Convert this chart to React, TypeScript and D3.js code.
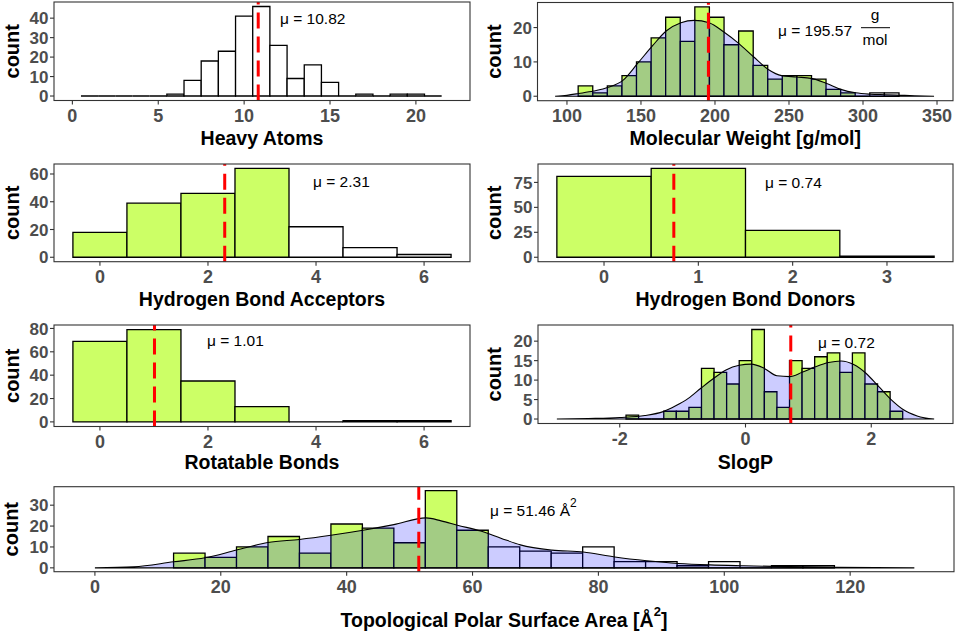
import React from "react";
import * as d3 from "d3";

const W = 957;
const H = 634;
const FONT = "'Liberation Sans', Arial, Helvetica, sans-serif";
const LIME = "#ccff66";
const TICK_GREY = "#4d4d4d";

// Heavy Atoms (binwidth 1)
const heavyAtomBins = [1, 2, 3, 4, 5, 6, 7, 8, 9, 10, 11, 12, 13, 14, 15, 16, 17, 18, 19, 20, 21];
const heavyAtomCounts = [0, 0, 0, 0, 0, 1, 8, 18, 23, 41, 46, 26, 9, 16, 7, 0, 1, 0, 1, 1, 0];
const heavyAtomMean = 10.82;

// Molecular Weight
const mwBins = [112.5, 122.4, 132.2, 142.1, 151.9, 161.8, 171.6, 181.5, 191.3, 201.2, 211.0, 220.9, 230.7, 240.6, 250.4, 260.3, 270.1, 280.0, 289.8, 299.7, 309.5, 319.4];
const mwCounts = [3, 1, 3, 6, 10, 17, 23, 16, 26, 23, 15, 19, 9, 5, 6, 6, 5, 2, 1, 0, 1, 1];
const mwDensityX = [92, 100, 108, 118, 128, 138, 148, 158, 167, 177, 186, 196, 206, 216, 226, 236, 245, 255, 265, 275, 285, 295, 305, 315, 325, 335, 348];
const mwDensityY = [0, 0.3, 0.8, 1.5, 2.6, 4.7, 9.7, 14.8, 19, 21.4, 22.1, 21.4, 18.7, 15.4, 11.5, 7.8, 6.0, 5.6, 5.2, 3.8, 2.0, 1.0, 0.6, 0.45, 0.3, 0.15, 0];
const mwMean = 195.57;

// Hydrogen Bond Acceptors
const hbaBins = [0, 1, 2, 3, 4, 5, 6];
const hbaCounts = [18, 39, 46, 64, 22, 7, 2];
const hbaMean = 2.31;

// Hydrogen Bond Donors
const hbdBins = [0, 1, 2, 3];
const hbdCounts = [81, 89, 27, 1];
const hbdMean = 0.74;

// Rotatable Bonds
const rotBins = [0, 1, 2, 3, 4, 5, 6];
const rotCounts = [69, 79, 35, 13, 0, 1, 1];
const rotMean = 1.01;

// SlogP (binwidth 0.2)
const slogpBins = [-1.8, -1.6, -1.4, -1.2, -1.0, -0.8, -0.6, -0.4, -0.2, 0, 0.2, 0.4, 0.6, 0.8, 1.0, 1.2, 1.4, 1.6, 1.8, 2.0, 2.2, 2.4];
const slogpCounts = [1, 0, 0, 2, 2, 3, 13, 12, 9, 15, 23, 7, 3, 15, 13, 16, 17, 12, 17, 9, 7, 2];
const slogpDensityX = [-3, -2.5, -2, -1.6, -1.31, -1.11, -0.91, -0.71, -0.51, -0.31, -0.1, 0.09, 0.3, 0.5, 0.7, 0.9, 1.11, 1.32, 1.52, 1.72, 1.92, 2.12, 2.32, 2.5, 2.73, 3];
const slogpDensityY = [0, 0.15, 0.4, 0.9, 1.9, 3.4, 5.3, 7.9, 10.4, 12.6, 13.8, 14.1, 13, 11.1, 10.9, 12, 13.4, 14.5, 14.9, 14, 11.7, 8.3, 4.9, 2.5, 0.8, 0];
const slogpMean = 0.72;

// Topological Polar Surface Area (binwidth 5)
const tpsaBins = [15, 20, 25, 30, 35, 40, 45, 50, 55, 60, 65, 70, 75, 80, 85, 90, 95, 100, 105, 110, 115];
const tpsaCounts = [7, 5, 10, 15, 7, 21, 19, 12, 37, 18, 10, 8, 7, 10, 3, 3, 1, 3, 0, 1, 1];
const tpsaDensityX = [0, 6.2, 12.5, 17.5, 22.5, 27.5, 32.5, 37.5, 42.6, 47.5, 52.6, 55, 57.6, 61.3, 64.5, 67.6, 72.6, 77.6, 82.6, 87.7, 92.7, 97.7, 102.7, 107.7, 112.7, 117.7, 124, 130.2];
const tpsaDensityY = [0, 0.5, 2.9, 4.8, 8.5, 12.1, 13.6, 15.6, 18, 20.7, 23.9, 22.5, 20.4, 17.6, 14.2, 11, 8.5, 7.6, 5.2, 3.4, 2.1, 1.4, 1.0, 0.7, 0.5, 0.3, 0.1, 0];
const tpsaMean = 51.46;

interface PanelProps {
  left: number;
  top: number;
  right: number;
  bottom: number;
  xDomain: [number, number];
  bins: number[];
  counts: number[];
  binWidth: number;
  limeUpTo: number;
  densityX?: number[];
  densityY?: number[];
  mean: number;
  xTicks: number[];
  yTicks: number[];
  countX: number;
  title: React.ReactNode;
  titleGap?: number;
  children?: React.ReactNode;
}

function Panel(p: PanelProps) {
  const yMax = d3.max(p.counts) ?? 1;
  const x = d3.scaleLinear().domain(p.xDomain).range([p.left, p.right]);
  const y = d3
    .scaleLinear()
    .domain([-0.05 * yMax, 1.05 * yMax])
    .range([p.bottom, p.top]);
  const y0 = y(0);

  // bars as paths so zero-count bins still show as a line
  const bars = p.bins.map((c, i) => {
    const x0 = x(c - p.binWidth / 2);
    const x1 = x(c + p.binWidth / 2);
    const yt = y(p.counts[i]);
    return {
      d: `M${x0},${y0}V${yt}H${x1}V${y0}Z`,
      fill: c <= p.limeUpTo ? LIME : "#ffffff",
    };
  });

  let densityPath: string | null = null;
  if (p.densityX && p.densityY) {
    const pts = p.densityX.map((v, i) => [v, p.densityY![i]] as [number, number]);
    densityPath = d3
      .area<[number, number]>()
      .x((d) => x(d[0]))
      .y0(y0)
      .y1((d) => y(d[1]))
      .curve(d3.curveMonotoneX)(pts);
  }

  const mx = x(p.mean);
  const cx = (p.left + p.right) / 2;
  const cy = (p.top + p.bottom) / 2;

  return (
    <g>
      {bars.map((b, i) => (
        <path key={i} d={b.d} fill={b.fill} stroke="#000" strokeWidth={1.3} />
      ))}
      {densityPath && (
        <path d={densityPath} fill="#0000ff" fillOpacity={0.2} stroke="#000" strokeWidth={1.1} />
      )}
      <line
        x1={mx}
        x2={mx}
        y1={p.bottom}
        y2={p.top}
        stroke="#ff0000"
        strokeWidth={3}
        strokeDasharray="16 8"
      />
      {p.children}
      <rect
        x={p.left}
        y={p.top}
        width={p.right - p.left}
        height={p.bottom - p.top}
        fill="none"
        stroke="#333333"
        strokeWidth={1.1}
      />
      {p.yTicks.map((t) => (
        <g key={"y" + t}>
          <line x1={p.left - 4} x2={p.left} y1={y(t)} y2={y(t)} stroke="#333333" strokeWidth={1.1} />
          <text
            x={p.left - 5.5}
            y={y(t)}
            dy="0.36em"
            textAnchor="end"
            fontSize={17}
            fontWeight="bold"
            fill={TICK_GREY}
          >
            {t}
          </text>
        </g>
      ))}
      {p.xTicks.map((t) => (
        <g key={"x" + t}>
          <line x1={x(t)} x2={x(t)} y1={p.bottom} y2={p.bottom + 4} stroke="#333333" strokeWidth={1.1} />
          <text
            x={x(t)}
            y={p.bottom + 21.5}
            textAnchor="middle"
            fontSize={18}
            fontWeight="bold"
            fill={TICK_GREY}
          >
            {t}
          </text>
        </g>
      ))}
      <text
        transform={`translate(${p.countX},${cy}) rotate(-90)`}
        dy="0.35em"
        textAnchor="middle"
        fontSize={20}
        fontWeight="bold"
        fill="#000"
      >
        count
      </text>
      <text
        x={cx}
        y={p.bottom + (p.titleGap ?? 44.5)}
        textAnchor="middle"
        fontSize={19.5}
        fontWeight="bold"
        fill="#000"
      >
        {p.title}
      </text>
    </g>
  );
}

function MuLabel({ x, y, text }: { x: number; y: number; text: string }) {
  return (
    <text x={x} y={y} fontSize={15.5} fill="#000">
      {"\u03bc = " + text}
    </text>
  );
}

export default function App() {
  return (
    <div style={{ position: "absolute", left: 0, top: 0 }}>
      <svg width={W} height={H} style={{ display: "block", background: "#fff", fontFamily: FONT }}>
        <Panel
          left={54}
          top={2}
          right={470}
          bottom={100.5}
          xDomain={[-1.07, 23.15]}
          bins={heavyAtomBins}
          counts={heavyAtomCounts}
          binWidth={1}
          limeUpTo={-Infinity}
          mean={heavyAtomMean}
          xTicks={[0, 5, 10, 15, 20]}
          yTicks={[0, 10, 20, 30, 40]}
          countX={12}
          title="Heavy Atoms"
        >
          <MuLabel x={280} y={24} text={heavyAtomMean.toFixed(2)} />
        </Panel>

        <Panel
          left={537.5}
          top={2.5}
          right={953}
          bottom={100.7}
          xDomain={[80.1, 360.8]}
          bins={mwBins}
          counts={mwCounts}
          binWidth={9.85}
          limeUpTo={300}
          densityX={mwDensityX}
          densityY={mwDensityY}
          mean={mwMean}
          xTicks={[100, 150, 200, 250, 300, 350]}
          yTicks={[0, 10, 20]}
          countX={494}
          title="Molecular Weight [g/mol]"
        >
          <text x={778} y={36} fontSize={15.5} fill="#000">
            {"\u03bc =  " + mwMean.toFixed(2)}
          </text>
          <text x={875} y={20} fontSize={15.5} fill="#000" textAnchor="middle">
            g
          </text>
          <line x1={861} x2={890} y1={27.7} y2={27.7} stroke="#000" strokeWidth={1} />
          <text x={875} y={45} fontSize={15.5} fill="#000" textAnchor="middle">
            mol
          </text>
        </Panel>

        <Panel
          left={54}
          top={164}
          right={470}
          bottom={261.7}
          xDomain={[-0.85, 6.85]}
          bins={hbaBins}
          counts={hbaCounts}
          binWidth={1}
          limeUpTo={3}
          mean={hbaMean}
          xTicks={[0, 2, 4, 6]}
          yTicks={[0, 20, 40, 60]}
          countX={12}
          title="Hydrogen Bond Acceptors"
        >
          <MuLabel x={313} y={187} text={hbaMean.toFixed(2)} />
        </Panel>

        <Panel
          left={538}
          top={164}
          right={953}
          bottom={261.7}
          xDomain={[-0.7, 3.7]}
          bins={hbdBins}
          counts={hbdCounts}
          binWidth={1}
          limeUpTo={3}
          mean={hbdMean}
          xTicks={[0, 1, 2, 3]}
          yTicks={[0, 25, 50, 75]}
          countX={494}
          title="Hydrogen Bond Donors"
        >
          <MuLabel x={765} y={187.5} text={hbdMean.toFixed(2)} />
        </Panel>

        <Panel
          left={54}
          top={325}
          right={470}
          bottom={426.5}
          xDomain={[-0.85, 6.85]}
          bins={rotBins}
          counts={rotCounts}
          binWidth={1}
          limeUpTo={3}
          mean={rotMean}
          xTicks={[0, 2, 4, 6]}
          yTicks={[0, 20, 40, 60, 80]}
          countX={12}
          title="Rotatable Bonds"
          titleGap={42}
        >
          <MuLabel x={207} y={346} text={rotMean.toFixed(2)} />
        </Panel>

        <Panel
          left={538}
          top={325}
          right={953}
          bottom={423.5}
          xDomain={[-3.3, 3.3]}
          bins={slogpBins}
          counts={slogpCounts}
          binWidth={0.2}
          limeUpTo={5}
          densityX={slogpDensityX}
          densityY={slogpDensityY}
          mean={slogpMean}
          xTicks={[-2, 0, 2]}
          yTicks={[0, 5, 10, 15, 20]}
          countX={494}
          title="SlogP"
          titleGap={45}
        >
          <MuLabel x={818} y={348} text={slogpMean.toFixed(2)} />
        </Panel>

        <Panel
          left={54}
          top={486.7}
          right={954}
          bottom={571.7}
          xDomain={[-6.5, 136.5]}
          bins={tpsaBins}
          counts={tpsaCounts}
          binWidth={5}
          limeUpTo={60}
          densityX={tpsaDensityX}
          densityY={tpsaDensityY}
          mean={tpsaMean}
          xTicks={[0, 20, 40, 60, 80, 100, 120]}
          yTicks={[0, 10, 20, 30]}
          countX={11}
          titleGap={55}
          title={
            <>
              {"Topological Polar Surface Area [\u00c5"}
              <tspan dy={-11} fontSize={13}>
                2
              </tspan>
              <tspan dy={11}>]</tspan>
            </>
          }
        >
          <text x={490} y={516} fontSize={15.5} fill="#000">
            {"\u03bc =  " + tpsaMean.toFixed(2) + " \u00c5"}
            <tspan dy={-9} fontSize={12}>
              2
            </tspan>
          </text>
        </Panel>
      </svg>
    </div>
  );
}
